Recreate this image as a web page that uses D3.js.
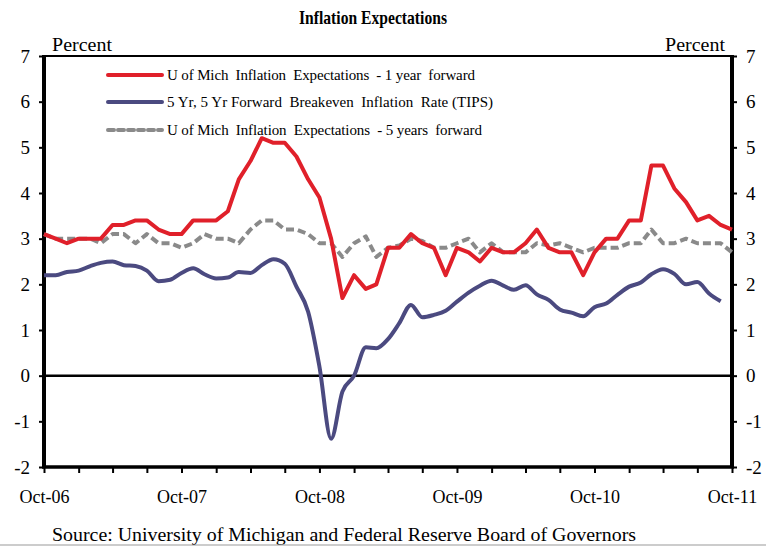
<!DOCTYPE html>
<html>
<head>
<meta charset="utf-8">
<script src="https://cdn.jsdelivr.net/npm/d3@7"></script>
<style>
	body { margin: 0; background: #fff; }
	text { font-family: "Liberation Serif", "Times New Roman", serif; fill: #000; }
</style>
</head>
<body>
<svg id="chart" width="766" height="546"></svg>
<script>
// monthly data, Oct-06 .. Oct-11
const startMonth = new Date(2006, 9, 1);
const mich1yr = [3.1, 3.0, 2.9, 3.0, 3.0, 3.0, 3.3, 3.3, 3.4, 3.4, 3.2, 3.1, 3.1, 3.4, 3.4, 3.4, 3.6, 4.3, 4.7, 5.2,
	5.1, 5.1, 4.8, 4.3, 3.9, 3.0, 1.7, 2.2, 1.9, 2.0, 2.8, 2.8, 3.1, 2.9, 2.8, 2.2, 2.8, 2.7, 2.5, 2.8,
	2.7, 2.7, 2.9, 3.2, 2.8, 2.7, 2.7, 2.2, 2.7, 3.0, 3.0, 3.4, 3.4, 4.6, 4.6, 4.1, 3.8, 3.4, 3.5, 3.3, 3.2];
const tips5y5y = [2.2, 2.2, 2.27, 2.3, 2.4, 2.47, 2.5, 2.42, 2.4, 2.3, 2.07, 2.1, 2.25, 2.35, 2.22, 2.13, 2.15, 2.27, 2.25, 2.42,
	2.55, 2.45, 1.95, 1.4, 0.2, -1.38, -0.35, 0.0, 0.62, 0.6, 0.8, 1.15, 1.55, 1.28, 1.33, 1.42, 1.62, 1.82, 1.97, 2.08,
	1.97, 1.88, 1.98, 1.78, 1.66, 1.45, 1.38, 1.3, 1.5, 1.58, 1.77, 1.95, 2.04, 2.22, 2.33, 2.23, 2.0, 2.05, 1.8, 1.63];
const mich5yr = [3.1, 3.0, 3.0, 3.0, 3.0, 2.9, 3.1, 3.1, 2.9, 3.1, 2.9, 2.9, 2.8, 2.9, 3.1, 3.0, 3.0, 2.9, 3.2, 3.4,
	3.4, 3.2, 3.2, 3.1, 2.9, 2.9, 2.6, 2.9, 3.05, 2.6, 2.8, 2.85, 3.0, 2.95, 2.8, 2.8, 2.9, 3.0, 2.7, 2.9,
	2.7, 2.7, 2.7, 2.9, 2.85, 2.9, 2.8, 2.7, 2.8, 2.8, 2.8, 2.9, 2.9, 3.2, 2.9, 2.9, 3.0, 2.9, 2.9, 2.9, 2.7];
const yTicks = [-2, -1, 0, 1, 2, 3, 4, 5, 6, 7];
const xLabels = ["Oct-06", "Oct-07", "Oct-08", "Oct-09", "Oct-10", "Oct-11"];
const seriesNames = ["U of Mich  Inflation  Expectations  - 1 year  forward",
	"5 Yr, 5 Yr Forward  Breakeven  Inflation  Rate (TIPS)",
	"U of Mich  Inflation  Expectations  - 5 years  forward"];

//-----------------------------------
const svg = d3.select("#chart");
const _left = 44, _right = 732, _top = 56, _bottom = 467;

const monthDate = i => d3.timeMonth.offset(startMonth, i);

const x = d3.scaleTime()
	.domain([startMonth, monthDate(60)])
	.range([_left, _right]);
const y = d3.scaleLinear()
	.domain([-2, 7])
	.range([_bottom, _top]);

// title
svg.append("text")
	.attr("x", 373).attr("y", 24)
	.attr("text-anchor", "middle")
	.attr("font-size", 19).attr("font-weight", "bold")
	.attr("textLength", 148).attr("lengthAdjust", "spacingAndGlyphs")
	.text("Inflation Expectations");

svg.append("text").attr("x", 52).attr("y", 51).attr("font-size", 18)
	.attr("textLength", 60).attr("lengthAdjust", "spacingAndGlyphs").text("Percent");
svg.append("text").attr("x", 665).attr("y", 51).attr("font-size", 18)
	.attr("textLength", 60).attr("lengthAdjust", "spacingAndGlyphs").text("Percent");

//------- axes
const styleAxis = g => {
	g.select(".domain").remove();
	g.selectAll(".tick line").attr("stroke", "#000").attr("stroke-width", 2);
	g.selectAll(".tick text").attr("font-size", 19).attr("font-family", "Liberation Serif, serif").attr("fill", "#000");
};

svg.append("g")
	.attr("transform", "translate(" + _left + ",0)")
	.call(d3.axisLeft(y).tickValues(yTicks).tickSize(5).tickPadding(9).tickFormat(d => String(d)))
	.call(styleAxis);

svg.append("g")
	.attr("transform", "translate(" + _right + ",0)")
	.call(d3.axisRight(y).tickValues(yTicks).tickSize(5).tickPadding(9).tickFormat(d => String(d)))
	.call(styleAxis);

const quarterTicks = d3.range(0, 61, 3).map(monthDate);
svg.append("g")
	.attr("transform", "translate(0," + _bottom + ")")
	.call(d3.axisBottom(x).tickValues(quarterTicks).tickSize(6).tickPadding(17)
		.tickFormat((d, i) => i % 4 === 0 ? xLabels[i / 4] : ""))
	.call(styleAxis)
	.call(g => g.selectAll(".tick text").attr("font-size", 18));

// frame
svg.append("line").attr("x1", _left).attr("x2", _right).attr("y1", _top).attr("y2", _top)
	.attr("stroke", "#000").attr("stroke-width", 2);
svg.append("line").attr("x1", _left - 2).attr("x2", _right + 2).attr("y1", _bottom).attr("y2", _bottom)
	.attr("stroke", "#000").attr("stroke-width", 3.5);
svg.append("line").attr("x1", _left).attr("x2", _left).attr("y1", _top - 1).attr("y2", _bottom)
	.attr("stroke", "#000").attr("stroke-width", 4);
svg.append("line").attr("x1", _right).attr("x2", _right).attr("y1", _top - 1).attr("y2", _bottom)
	.attr("stroke", "#000").attr("stroke-width", 4);

// zero line
svg.append("line").attr("x1", _left).attr("x2", _right).attr("y1", y(0)).attr("y2", y(0))
	.attr("stroke", "#000").attr("stroke-width", 2.5);

//------- series
const colors = ["#e0202a", "#4b4a80", "#8a8a8a"];

const lineStep = d3.line()
	.x((d, i) => x(monthDate(i)))
	.y(d => y(d));
const lineSmooth = d3.line()
	.x((d, i) => x(monthDate(i)))
	.y(d => y(d))
	.curve(d3.curveMonotoneX);

svg.append("path").datum(mich5yr).attr("d", lineStep)
	.attr("fill", "none").attr("stroke", colors[2]).attr("stroke-width", 4)
	.attr("stroke-dasharray", "8,4").attr("stroke-linejoin", "round");
svg.append("path").datum(tips5y5y).attr("d", lineSmooth)
	.attr("fill", "none").attr("stroke", colors[1]).attr("stroke-width", 4)
	.attr("stroke-linejoin", "round");
svg.append("path").datum(mich1yr).attr("d", lineStep)
	.attr("fill", "none").attr("stroke", colors[0]).attr("stroke-width", 4)
	.attr("stroke-linejoin", "round");

//------- legend
const legendY = [75, 102, 130];
const legendLen = [308, 326, 315];
for (let i = 0; i < 3; i++) {
	let ln = svg.append("line")
		.attr("x1", 108).attr("x2", 162).attr("y1", legendY[i]).attr("y2", legendY[i])
		.attr("stroke", colors[i]).attr("stroke-width", 4).attr("stroke-linecap", "round");
	if (i === 2)
		ln.attr("stroke-dasharray", "6,4");
	svg.append("text")
		.attr("x", 167).attr("y", legendY[i] + 5)
		.attr("font-size", 15)
		.attr("textLength", legendLen[i]).attr("lengthAdjust", "spacing")
		.style("white-space", "pre")
		.text(seriesNames[i]);
}

// source
svg.append("text")
	.attr("x", 52).attr("y", 541)
	.attr("font-size", 18)
	.attr("textLength", 584).attr("lengthAdjust", "spacingAndGlyphs")
	.text("Source: University of Michigan and Federal Reserve Board of Governors");
svg.append("line").attr("x1", 0).attr("x2", 766).attr("y1", 545).attr("y2", 545)
	.attr("stroke", "#999").attr("stroke-width", 1);
</script>
</body>
</html>
